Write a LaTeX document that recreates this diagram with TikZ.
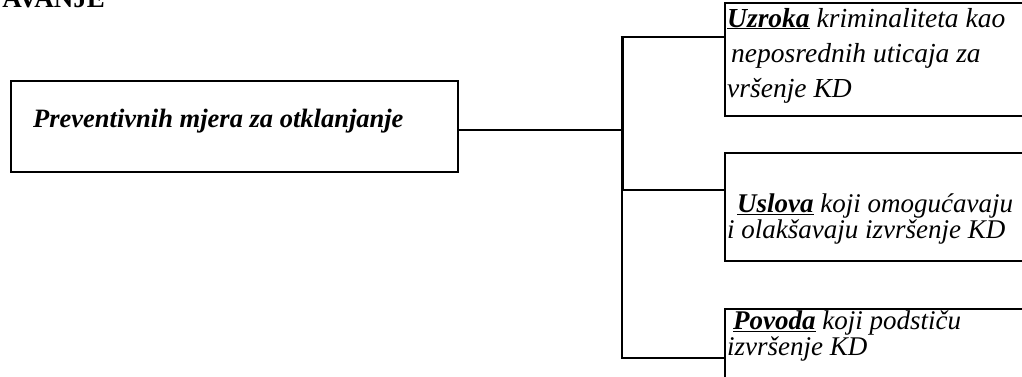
\documentclass[tikz,border=0pt]{standalone}
\usepackage{fontspec}
\setmainfont{Liberation Serif}
\begin{document}
\begin{tikzpicture}[x=1pt,y=-1pt,
  box/.style={draw, line width=1.8pt, inner sep=0pt, anchor=north west},
  conn/.style={line width=1.8pt},
  trunk/.style={line width=3pt},
  lbl/.style={inner sep=0pt, anchor=base west, align=left},
  mainlbl/.style={inner sep=0pt, anchor=base west, font=\fontsize{26.5}{26.5}\selectfont\bfseries\itshape}]
\useasboundingbox (0,0) rectangle (1022,376);
\clip (0,0) rectangle (1022,376);
% header fragment
\node[inner sep=0pt, anchor=base east, font=\fontsize{27}{27}\selectfont\bfseries] (hdr) at (105,7) {AVANJE};
% boxes
\node[box, minimum width=447pt, minimum height=91pt] (main) at (10,80) {};
\node[box, minimum width=330pt, minimum height=113pt] (b1) at (724,2) {};
\node[box, minimum width=330pt, minimum height=108pt] (b2) at (724,152) {};
\node[box, minimum width=330pt, minimum height=100pt] (b3) at (724,308) {};
% texts
\node[mainlbl] (mt) at (33,127) {Preventivnih mjera za otklanjanje};
\node[lbl, font=\fontsize{27.5}{35}\selectfont\itshape] (t1txt) at (727,97) {\underline{\textbf{Uzroka}} kriminaliteta kao\\\hspace*{4pt}neposrednih uticaja za\\vršenje KD};
\node[lbl, font=\fontsize{27}{23}\selectfont\itshape] (t2txt) at (727,238) {\hspace*{10pt}\underline{\textbf{Uslova}} koji omogućavaju\\i olakšavaju izvršenje KD};
\node[lbl, font=\fontsize{27}{24.5}\selectfont\itshape] (t3txt) at (727,355) {\hspace*{6pt}\underline{\textbf{Povoda}} koji podstiču\\izvršenje KD};
% trunk
\coordinate (tm) at (622,130);
\coordinate (c1) at (622,37);
\coordinate (c2) at (622,190);
\coordinate (c3) at (622,358);
\draw[conn] (main.east |- tm) -- (tm);
\draw[trunk] ([yshift=-0.6pt]c1) -- (c2);
\draw[conn] (c2) -- (c3);
\draw[conn] ([xshift=-1.5pt]c1) -- (c1 -| b1.west);
\draw[conn] (c2) -- (c2 -| b2.west);
\draw[conn] ([xshift=-0.9pt]c3) -- (c3 -| b3.west);
\end{tikzpicture}
\end{document}
